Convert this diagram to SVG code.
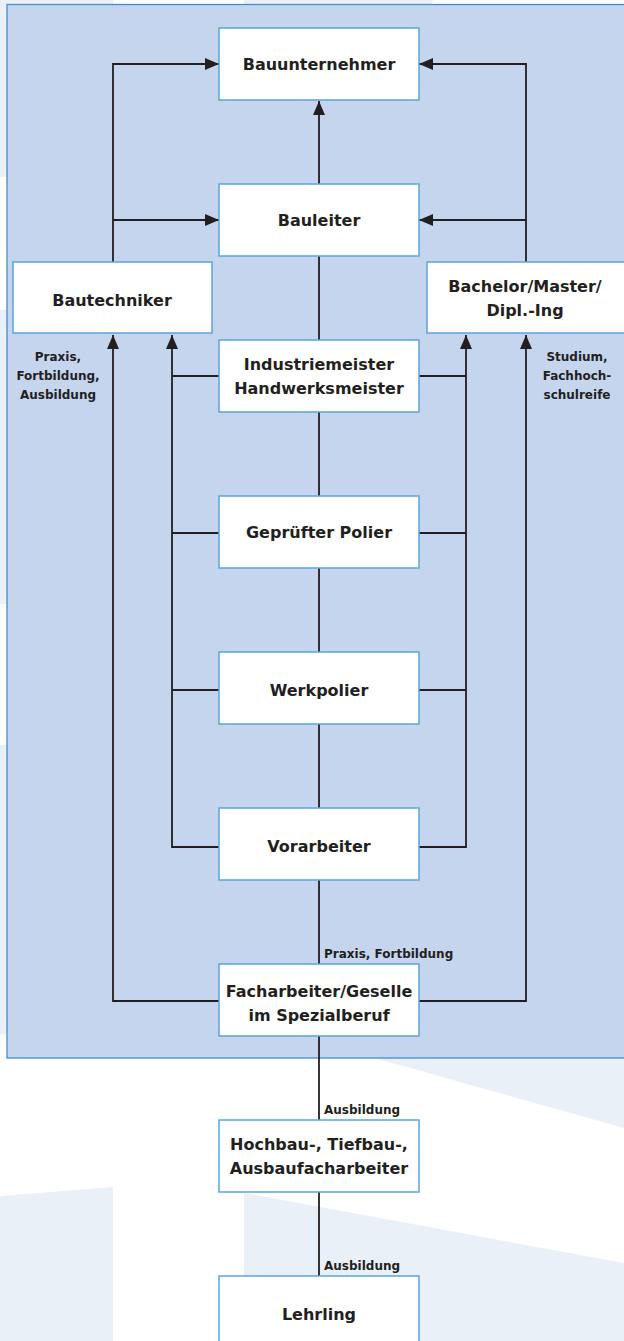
<svg xmlns="http://www.w3.org/2000/svg" width="624" height="1341" viewBox="0 0 624 1341">
  <style>
    .bg { fill: #EAF0F8; stroke: none; }
    .panel { fill: #C6D5EE; stroke: #3F90D2; stroke-width: 1.3; }
    .box { fill: #FFFFFF; stroke: #5AA5DC; stroke-width: 1.5; }
    .lbl { font-family: "DejaVu Sans", "Liberation Sans", sans-serif; font-weight: bold; font-size: 16px; fill: #231F20; text-anchor: middle; }
    .small { font-family: "DejaVu Sans", "Liberation Sans", sans-serif; font-weight: bold; font-size: 12px; fill: #231F20; }
    .mid { text-anchor: middle; }
    .conn { fill: none; stroke: #231F20; stroke-width: 1.8; }
  </style>
  <defs>
    <marker id="arr" viewBox="0 0 14 12" refX="14" refY="6" markerWidth="14" markerHeight="12" markerUnits="userSpaceOnUse" orient="auto">
      <path d="M0,0 L14,6 L0,12 z" fill="#231F20"/>
    </marker>
  </defs>

  <rect x="0" y="0" width="624" height="1341" fill="#FFFFFF"/>
  <g id="background">
    <polygon class="bg" points="0,0 113,0 113,170 0,177"/>
    <polygon class="bg" points="0,310 113,302 113,598 0,604"/>
    <polygon class="bg" points="0,745 113,737 113,1029 0,1035"/>
    <polygon class="bg" points="0,1196 113,1187 113,1341 0,1341"/>
    <polygon class="bg" points="244,0 433,0 430,10 244,10"/>
    <polygon class="bg" points="346,1050 624,1050 624,1128"/>
    <polygon class="bg" points="244,1193 624,1263 624,1341 244,1341"/>
  </g>

  <rect class="panel" x="7" y="4.5" width="630" height="1053.5"/>

  <g id="connectors">
    <path class="conn" d="M319,1276 V256"/>
    <path class="conn" d="M319,184 V101" marker-end="url(#arr)"/>
    <path class="conn" d="M219,1001 H113 V335" marker-end="url(#arr)"/>
    <path class="conn" d="M113,262 V64 H219" marker-end="url(#arr)"/>
    <path class="conn" d="M113,220 H219" marker-end="url(#arr)"/>
    <path class="conn" d="M419,1001 H526 V335" marker-end="url(#arr)"/>
    <path class="conn" d="M526,262 V64 H419" marker-end="url(#arr)"/>
    <path class="conn" d="M526,220 H419" marker-end="url(#arr)"/>
    <path class="conn" d="M219,847 H172 V335" marker-end="url(#arr)"/>
    <path class="conn" d="M219,376 H172 M219,533 H172 M219,690 H172"/>
    <path class="conn" d="M419,847 H466 V335" marker-end="url(#arr)"/>
    <path class="conn" d="M419,376 H466 M419,533 H466 M419,690 H466"/>
  </g>

  <g id="n-bauunternehmer">
    <rect class="box" x="219" y="28" width="200" height="72"/>
    <text class="lbl" x="319" y="70">Bauunternehmer</text>
  </g>
  <g id="n-bauleiter">
    <rect class="box" x="219" y="184" width="200" height="72"/>
    <text class="lbl" x="319" y="226">Bauleiter</text>
  </g>
  <g id="n-bautechniker">
    <rect class="box" x="13" y="262" width="199" height="71"/>
    <text class="lbl" x="112" y="306">Bautechniker</text>
  </g>
  <g id="n-bachelor">
    <rect class="box" x="427" y="262" width="199" height="71"/>
    <text class="lbl" x="525" y="292">Bachelor/Master/</text>
    <text class="lbl" x="525" y="316">Dipl.-Ing</text>
  </g>
  <g id="n-industriemeister">
    <rect class="box" x="219" y="340" width="200" height="72"/>
    <text class="lbl" x="319" y="370">Industriemeister</text>
    <text class="lbl" x="319" y="394">Handwerksmeister</text>
  </g>
  <g id="n-polier">
    <rect class="box" x="219" y="496" width="200" height="72"/>
    <text class="lbl" x="319" y="538">Geprüfter Polier</text>
  </g>
  <g id="n-werkpolier">
    <rect class="box" x="219" y="652" width="200" height="72"/>
    <text class="lbl" x="319" y="696">Werkpolier</text>
  </g>
  <g id="n-vorarbeiter">
    <rect class="box" x="219" y="808" width="200" height="72"/>
    <text class="lbl" x="319" y="852">Vorarbeiter</text>
  </g>
  <g id="n-facharbeiter">
    <rect class="box" x="219" y="964" width="200" height="72"/>
    <text class="lbl" x="319" y="997">Facharbeiter/Geselle</text>
    <text class="lbl" x="319" y="1021">im Spezialberuf</text>
  </g>
  <g id="n-hochbau">
    <rect class="box" x="219" y="1120" width="200" height="72"/>
    <text class="lbl" x="319" y="1150">Hochbau-, Tiefbau-,</text>
    <text class="lbl" x="319" y="1174">Ausbaufacharbeiter</text>
  </g>
  <g id="n-lehrling">
    <rect class="box" x="219" y="1276" width="200" height="72"/>
    <text class="lbl" x="319" y="1320">Lehrling</text>
  </g>

  <g id="labels">
    <text class="small mid" x="58" y="361">Praxis,</text>
    <text class="small mid" x="58" y="380">Fortbildung,</text>
    <text class="small mid" x="58" y="399">Ausbildung</text>
    <text class="small mid" x="577" y="361">Studium,</text>
    <text class="small mid" x="577" y="380">Fachhoch-</text>
    <text class="small mid" x="577" y="399">schulreife</text>
    <text class="small" x="324" y="958">Praxis, Fortbildung</text>
    <text class="small" x="324" y="1114">Ausbildung</text>
    <text class="small" x="324" y="1270">Ausbildung</text>
  </g>
</svg>
